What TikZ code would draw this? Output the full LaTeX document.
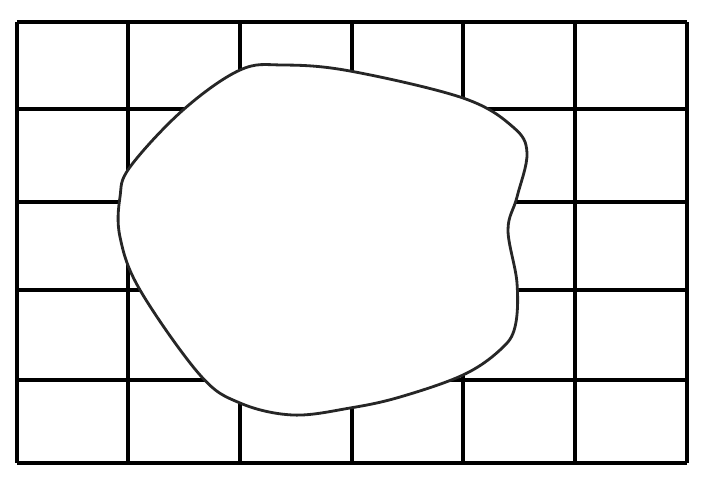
\documentclass[tikz,border=0pt]{standalone}
\usetikzlibrary{calc}
\tikzset{
  gridline/.style={black, line width=1.9pt},
  blob/.style={draw=black!85, line width=1.6pt, fill=white},
}
\begin{document}
\begin{tikzpicture}[x=0.02cm, y=-0.02cm]
    \useasboundingbox (0,0) rectangle (710,488);
    % grid
    \foreach \gx in {17,128,240,352,463,575,687}
      \draw[gridline] (\gx,22) -- (\gx,463);
    \foreach \gy in {22,109,202,290,380,463}
      \draw[gridline] (17,\gy) -- (687,\gy);
    % blob on top
    \draw[blob] plot[smooth cycle, tension=0.6] coordinates {
      (283,65) (350,71) (463,98) (513,127) (527,153) (517,197)
      (508,230) (517,283) (515,327) (500,350) (463,375) (400,397)
      (350,408) (293,415) (240,403) (200,375) (140,290) (120,237)
      (120,197) (130,167) (183,110) (240,70)};
  \end{tikzpicture}
\end{document}
